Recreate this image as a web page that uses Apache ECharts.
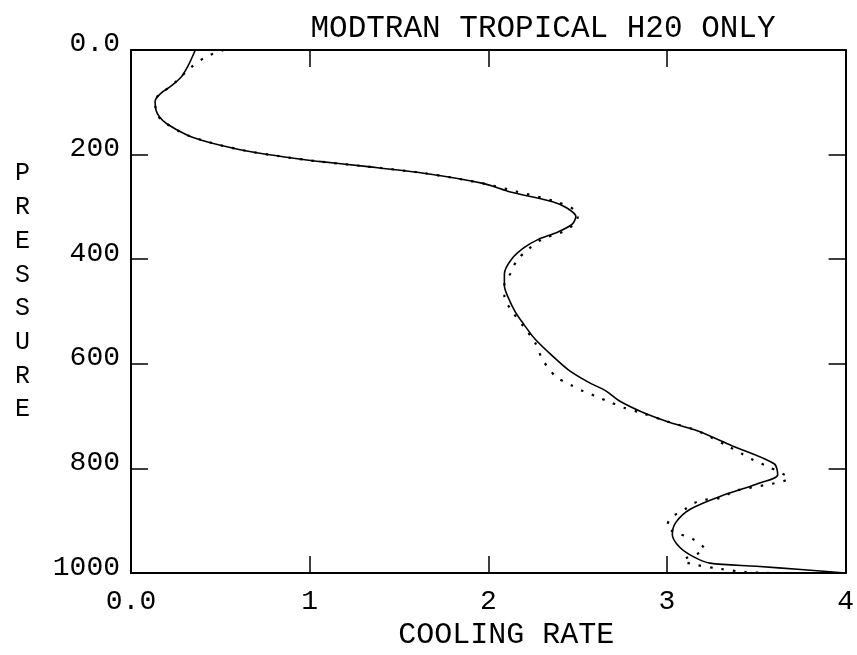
<!DOCTYPE html>
<html>
<head>
<meta charset="utf-8">
<script src="https://cdn.jsdelivr.net/npm/echarts@6/dist/echarts.min.js"></script>
<style>
html,body{margin:0;padding:0;background:#fff;}
#chart{width:857px;height:655px;}
</style>
</head>
<body>
<div id="chart"></div>
<script>
// ---- data ----
const titleText = 'MODTRAN TROPICAL H20 ONLY';
const xAxisTitle = 'COOLING RATE';
const yAxisTitle = 'PRESSURE';
const xTickValues = [0, 1, 2, 3, 4];
const xTickLabels = ['0.0', '1', '2', '3', '4'];
const yTickValues = [0, 200, 400, 600, 800, 1000];
const yTickLabels = ['0.0', '200', '400', '600', '800', '1000'];

// solid curve: [cooling rate, pressure]
const solidRate = [0.36,0.32,0.28,0.22,0.17,0.135,0.14,0.16,0.2,0.31,0.39,0.5,0.68,0.87,1.05,1.3,1.65,1.97,2.13,2.36,2.44,2.49,2.47,2.39,2.28,2.2,2.13,2.09,2.09,2.11,2.15,2.2,2.26,2.35,2.45,2.56,2.66,2.73,2.86,3.0,3.17,3.36,3.6,3.62,3.5,3.3,3.13,3.05,3.03,3.07,3.15,3.24,3.5,3.75,4.0];
const solidPres = [0,30,52,70,82,98,115,128,141,162,172,182,195,205,213,222,236,255,272,290,302,318,333,348,362,378,400,428,450,472,500,525,552,582,612,635,652,670,692,710,728,756,791,812,830,853,878,903,926,950,969,981,987,993,1000];

// dotted curve: [cooling rate, pressure]
const dottedRate = [0.52,0.42,0.33,0.26,0.2,0.15,0.135,0.15,0.2,0.31,0.5,0.68,0.87,1.05,1.3,1.65,1.97,2.15,2.38,2.48,2.5,2.48,2.42,2.3,2.22,2.16,2.13,2.09,2.09,2.12,2.2,2.26,2.3,2.33,2.38,2.46,2.53,2.61,2.68,2.76,2.86,3.0,3.17,3.34,3.42,3.49,3.57,3.68,3.38,3.3,3.18,3.1,3.02,3.0,3.06,3.14,3.21,3.09,3.16,3.3,3.44,3.6];
const dottedPres = [0,13,35,58,75,88,100,125,141,162,182,195,205,213,222,236,255,270,290,305,320,333,347,362,382,402,424,448,472,493,530,558,590,605,625,640,652,663,673,684,694,710,728,757,772,785,797,818,843,856,862,878,895,912,924,934,954,976,984,992,998,1000];

const solidData = solidRate.map((v, i) => [v, solidPres[i]]);
const dottedData = dottedRate.map((v, i) => [v, dottedPres[i]]);

const FONT = 'Liberation Mono';
const chart = echarts.init(document.getElementById('chart'), null, {renderer: 'canvas'});

const axisLine = {show: true, onZero: false, lineStyle: {color: '#000', width: 2}};
const tickStyle = {show: true, inside: true, length: 17, lineStyle: {color: '#000', width: 1.5}};

chart.setOption({
  backgroundColor: '#fff',
  animation: false,
  title: [
    {text: titleText, left: 538, top: 8, textAlign: 'center',
     textStyle: {fontFamily: FONT, fontSize: 31, fontWeight: 'normal', color: '#000'}},
    {text: yAxisTitle.split('').join('\n'), left: 10, top: 152,
     textStyle: {fontFamily: FONT, fontSize: 25, fontWeight: 'normal', color: '#000', lineHeight: 33.7}}
  ],
  grid: {left: 131, right: 9, top: 50, bottom: 74, show: false},
  xAxis: [
    {type: 'value', min: 0, max: 4, interval: 1, position: 'bottom',
     name: xAxisTitle, nameLocation: 'middle', nameGap: 46,
     nameTextStyle: {fontFamily: FONT, fontSize: 30, color: '#000', padding: [0, 0, 0, 36]},
     axisLine: axisLine,
     axisTick: Object.assign({}, tickStyle, {customValues: [1, 2, 3]}),
     axisLabel: {show: true, margin: 14, fontFamily: FONT, fontSize: 28, color: '#000',
       customValues: xTickValues,
       formatter: v => xTickLabels[xTickValues.indexOf(v)]},
     splitLine: {show: false}},
    {type: 'value', min: 0, max: 4, interval: 1, position: 'top',
     axisLine: axisLine,
     axisTick: Object.assign({}, tickStyle, {customValues: [1, 2, 3]}),
     axisLabel: {show: false}, splitLine: {show: false}}
  ],
  yAxis: [
    {type: 'value', min: 0, max: 1000, interval: 200, inverse: true, position: 'left',
     axisLine: axisLine,
     axisTick: Object.assign({}, tickStyle, {customValues: [200, 400, 600, 800]}),
     axisLabel: {show: true, margin: 11, fontFamily: FONT, fontSize: 28, color: '#000',
       verticalAlign: 'bottom', lineHeight: 12,
       customValues: yTickValues,
       formatter: v => yTickLabels[yTickValues.indexOf(v)]},
     splitLine: {show: false}},
    {type: 'value', min: 0, max: 1000, interval: 200, inverse: true, position: 'right',
     axisLine: axisLine,
     axisTick: Object.assign({}, tickStyle, {customValues: [200, 400, 600, 800]}),
     axisLabel: {show: false}, splitLine: {show: false}}
  ],
  series: [
    {type: 'line', name: 'solid', data: solidData, xAxisIndex: 0, yAxisIndex: 0,
     showSymbol: false, smooth: 0.3, lineStyle: {color: '#000', width: 1.6, type: 'solid'}},
    {type: 'line', name: 'dotted', data: dottedData, xAxisIndex: 0, yAxisIndex: 0,
     showSymbol: false, smooth: 0.3, lineStyle: {color: '#000', width: 2.2, type: [2.5, 9]}}
  ]
});
</script>
</body>
</html>
